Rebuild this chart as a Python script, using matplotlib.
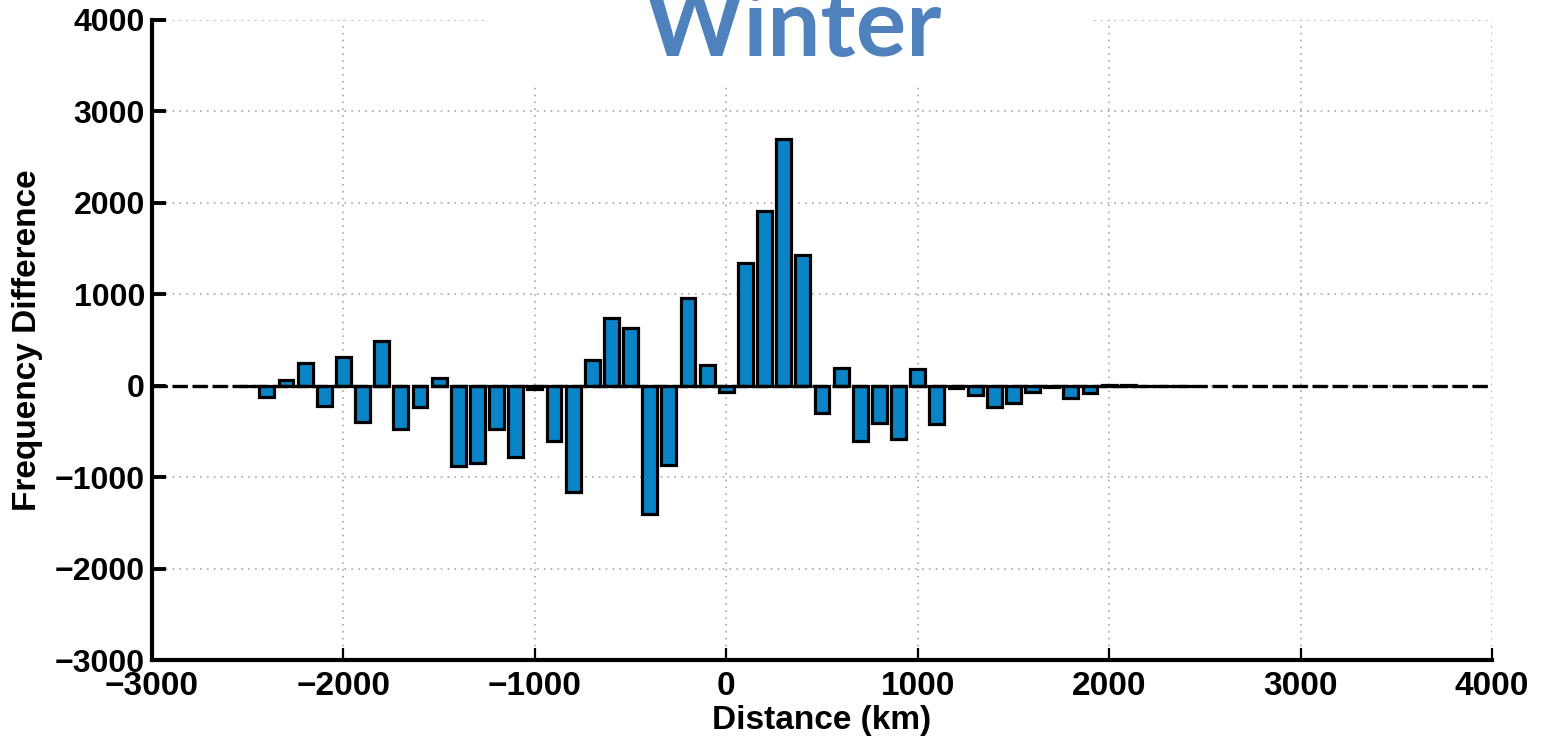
import numpy as np
import matplotlib
matplotlib.use('Agg')
import matplotlib.pyplot as plt
from matplotlib.patches import Rectangle

# bin centres (km) and frequency differences
distance = list(range(-2500, 2500, 100))
freq_diff = [0, -125, 65, 243, -220, 312, -395, 494, -469, -232,
             85, -877, -848, -476, -777, -40, -604, -1162, 276, 742,
             632, -1398, -866, 960, 232, -65, 1337, 1916, 2693, 1428,
             -297, 195, -605, -412, -585, 184, -421, -30, -104, -228,
             -192, -74, -15, -129, -82, 10, 5, -5, -8, -5]

xticks = [-3000, -2000, -1000, 0, 1000, 2000, 3000, 4000]
yticks = [-3000, -2000, -1000, 0, 1000, 2000, 3000, 4000]

plt.rcParams['font.family'] = ['Liberation Sans', 'DejaVu Sans']

fig = plt.figure(figsize=(15.42, 7.36), dpi=100)
ax = fig.add_axes([152 / 1542, 1 - 660 / 736, 1340 / 1542, 640 / 736])

ax.bar(distance, freq_diff, width=78, color='#0A84C6', edgecolor='black',
       linewidth=2.3, zorder=3)
ax.axhline(0, color='black', lw=2.4, linestyle=(0, (4.6, 1.4)), zorder=4)

ax.set_xlim(-3000, 4000)
ax.set_ylim(-3000, 4000)
ax.set_xticks(xticks)
ax.set_yticks(yticks)

ax.grid(True, color='#999999', linestyle=(0, (1, 3.5)), linewidth=1.1, zorder=0)
ax.set_axisbelow(True)

for s in ['top', 'right']:
    ax.spines[s].set_visible(False)
for s in ['left', 'bottom']:
    ax.spines[s].set_linewidth(3)

ax.tick_params(axis='y', direction='in', length=10, width=2.8, pad=5,
               labelsize=23)
ax.tick_params(axis='x', direction='in', length=9, width=1.6, pad=8,
               labelsize=24)
for lab in ax.get_xticklabels() + ax.get_yticklabels():
    lab.set_fontweight('bold')

ax.set_xlabel('Distance (km)', fontsize=24, fontweight='bold', labelpad=2)
ax.set_ylabel('Frequency Difference', fontsize=24, fontweight='bold')
ax.yaxis.set_label_coords(-0.081, 0.5)

# white box behind the title, covering the top of the grid
fig.patches.append(Rectangle((484 / 1542, 1 - 87 / 736), (1093 - 484) / 1542,
                             87 / 736, transform=fig.transFigure,
                             facecolor='white', edgecolor='none', zorder=5))
fig.text(793 / 1542, 1 - 56 / 736, 'Winter', family=['Lato', 'DejaVu Sans'],
         fontweight='bold', fontsize=68, color='#4F81BD', ha='center',
         va='baseline', zorder=6)

fig.savefig('out.png', dpi=100)
